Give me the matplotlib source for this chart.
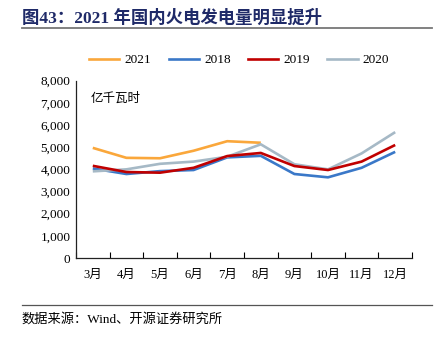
import matplotlib

matplotlib.use("Agg")
import matplotlib.pyplot as plt
from matplotlib.lines import Line2D

plt.rcParams["font.family"] = ["Liberation Serif", "Noto Sans CJK SC"]

months = ["3月", "4月", "5月", "6月", "7月", "8月", "9月", "10月", "11月", "12月"]
y2021 = [4970, 4520, 4500, 4840, 5270, 5200]
y2018 = [4040, 3790, 3920, 3970, 4540, 4610, 3790, 3640, 4070, 4790]
y2019 = [4160, 3880, 3850, 4070, 4600, 4740, 4150, 3970, 4350, 5100]
y2020 = [3910, 4000, 4250, 4350, 4570, 5130, 4230, 4000, 4720, 5680]
yticks = [0, 1000, 2000, 3000, 4000, 5000, 6000, 7000, 8000]

series = [
    ("2021", y2021, "#FAA73B"),
    ("2018", y2018, "#3A78C8"),
    ("2019", y2019, "#C00000"),
    ("2020", y2020, "#A6B9C6"),
]

fig = plt.figure(figsize=(4.39, 3.43), dpi=100)
ax = fig.add_axes([0.1731, 0.2478, 0.7654, 0.5169])

x = list(range(len(months)))
# grey 2020 drawn over the blue, red on top
for name, values, color in [series[0], series[1], series[3], series[2]]:
    ax.plot(x[: len(values)], values, color=color, lw=1.9, solid_capstyle="butt")

ax.set_xlim(-0.5, len(months) - 0.5)
ax.set_ylim(0, 8000)
ax.set_yticks(yticks)
ax.set_yticklabels([f"{v:,}" for v in yticks], fontsize=9.5)
ax.set_xticks([i + 0.5 for i in range(-1, len(months))], minor=False)
ax.set_xticklabels([])
ax.set_xticks(x, minor=True)
ax.set_xticklabels(months, minor=True, fontsize=9)
ax.tick_params(axis="x", which="minor", length=0, pad=8)
ax.tick_params(axis="x", which="major", direction="in", length=4, width=0.8)
ax.tick_params(axis="y", direction="out", length=0, pad=4)
for side in ("top", "right"):
    ax.spines[side].set_visible(False)
for side in ("left", "bottom"):
    ax.spines[side].set_linewidth(0.9)
    ax.spines[side].set_color("#222222")

ax.text(0.045, 0.93, "亿千瓦时", transform=ax.transAxes, fontsize=9, va="top", ha="left")

handles = [Line2D([0], [0], color=c, lw=1.9) for _, _, c in series]
fig.legend(
    handles,
    [n for n, _, _ in series],
    loc="center",
    bbox_to_anchor=(0.545, 0.825),
    ncol=4,
    frameon=False,
    fontsize=9.5,
    handlelength=2.3,
    columnspacing=1.3,
    handletextpad=0.4,
)

fig.text(0.05, 0.948, "图43：2021 年国内火电发电量明显提升", fontsize=12.5, fontweight="bold",
         color="#1F2A68", va="center", ha="left")
fig.add_artist(Line2D([0.05, 0.984], [0.918, 0.918], color="#777777", lw=1.3))
fig.add_artist(Line2D([0.05, 0.984], [0.111, 0.111], color="#555555", lw=0.9))
fig.text(0.05, 0.068, "数据来源：Wind、开源证券研究所", fontsize=9.5, va="center", ha="left")

fig.savefig("out.png", dpi=100)
